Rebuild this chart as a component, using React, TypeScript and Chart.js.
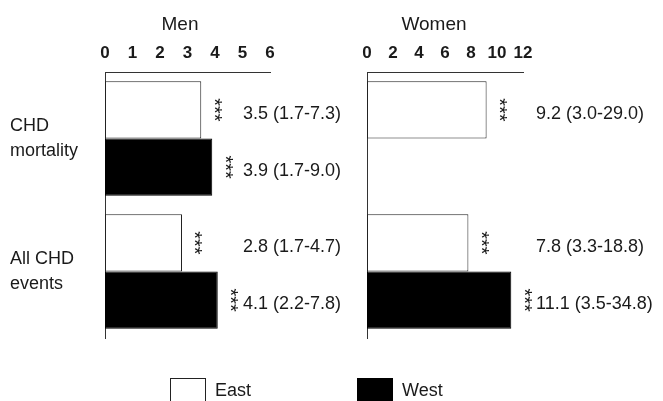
import React, { useEffect, useRef } from "react";
import { Chart, registerables } from "chart.js";
Chart.register(...registerables);

const categories = [["CHD", "mortality"], ["All CHD", "events"]];
const seriesNames = ["East", "West"];
const panelTitles = ["Men", "Women"];
const menEast = [3.5, 2.8];
const menWest = [3.9, 4.1];
const womenEast = [9.2, 7.8];
const womenWest: (number | null)[] = [null, 11.1];
const menEastLabels = ["3.5 (1.7-7.3)", "2.8 (1.7-4.7)"];
const menWestLabels = ["3.9 (1.7-9.0)", "4.1 (2.2-7.8)"];
const womenEastLabels = ["9.2 (3.0-29.0)", "7.8 (3.3-18.8)"];
const womenWestLabels = ["", "11.1 (3.5-34.8)"];
const menAxisMax = 6;
const menAxisStep = 1;
const womenAxisMax = 12;
const womenAxisStep = 2;
const significance = "***";

const FONT = '"Liberation Sans", Arial, Helvetica, sans-serif';
const INK = "#1a1a1a";

function annotatePlugin(labels: string[][], column: number, title: string, titleX: number, legend: boolean) {
  return {
    id: "annot",
    afterDatasetsDraw(chart: any) {
      const ctx = chart.ctx;
      ctx.save();
      ctx.fillStyle = INK;
      ctx.font = `19px ${FONT}`;
      ctx.textAlign = "center";
      ctx.textBaseline = "middle";
      ctx.fillText(title, titleX, 25);
      chart.data.datasets.forEach((ds: any, di: number) => {
        const meta = chart.getDatasetMeta(di);
        meta.data.forEach((bar: any, i: number) => {
          const v = ds.data[i];
          if (v == null) return;
          const { x, y } = bar.getProps(["x", "y"], true);
          const sx = x + 14;
          ctx.save();
          ctx.translate(sx, y);
          ctx.rotate(Math.PI / 2);
          ctx.font = `20px ${FONT}`;
          ctx.textAlign = "center";
          ctx.textBaseline = "middle";
          ctx.fillText(significance, 0, 2);
          ctx.restore();
          const text = labels[di][i];
          if (!text) return;
          ctx.font = `18px ${FONT}`;
          ctx.textAlign = "left";
          ctx.textBaseline = "middle";
          ctx.fillText(text, Math.max(column, sx + 6), y + 4);
        });
      });
      if (legend) {
        const pos = [170, 357];
        chart.data.datasets.forEach((ds: any, di: number) => {
          const bx = pos[di];
          ctx.fillStyle = ds.backgroundColor;
          ctx.fillRect(bx, 378, 36, 26);
          ctx.strokeStyle = ds.borderColor;
          ctx.lineWidth = 1;
          ctx.strokeRect(bx + 0.5, 378.5, 35, 26);
          ctx.fillStyle = INK;
          ctx.font = `18px ${FONT}`;
          ctx.textAlign = "left";
          ctx.textBaseline = "middle";
          ctx.fillText(ds.label, bx + 45, 391);
        });
      }
      ctx.restore();
    },
  };
}

function makeConfig(east: (number | null)[], west: (number | null)[], max: number, step: number, showY: boolean, padding: any, yWidth: number, plugin: any) {
  return {
    type: "bar" as const,
    data: {
      labels: categories,
      datasets: [
        { label: seriesNames[0], data: east, backgroundColor: "#ffffff", borderColor: "#222222", borderWidth: 1, borderSkipped: false },
        { label: seriesNames[1], data: west, backgroundColor: "#000000", borderColor: "#000000", borderWidth: 1, borderSkipped: false },
      ],
    },
    options: {
      indexAxis: "y" as const,
      responsive: false,
      animation: false as const,
      devicePixelRatio: 1,
      layout: { padding },
      categoryPercentage: 0.86,
      barPercentage: 1,
      plugins: { legend: { display: false }, tooltip: { enabled: false }, title: { display: false } },
      scales: {
        x: {
          position: "top" as const,
          min: 0,
          max,
          grid: { display: false, drawTicks: false },
          border: { display: true, color: "#333", width: 1 },
          ticks: { stepSize: step, color: INK, padding: 8, font: { family: FONT, size: 17, weight: "bold" as const } },
          afterFit: (s: any) => { s.height = 72; },
        },
        y: {
          offset: true,
          grid: { display: false, drawTicks: false },
          border: { display: true, color: "#333", width: 1 },
          ticks: { display: showY, crossAlign: "far" as const, color: INK, padding: 0, font: { family: FONT, size: 18, lineHeight: 1.4 } },
          afterFit: (s: any) => { s.width = yWidth; },
        },
      },
    },
    plugins: [plugin],
  };
}

export default function App() {
  const menRef = useRef<HTMLCanvasElement>(null);
  const womenRef = useRef<HTMLCanvasElement>(null);
  useEffect(() => {
    const men = new Chart(menRef.current!, makeConfig(menEast, menWest, menAxisMax, menAxisStep, true,
      { left: 10, right: 393, top: 0, bottom: 63 }, 95,
      annotatePlugin([menEastLabels, menWestLabels], 243, panelTitles[0], 180, true)) as any);
    const women = new Chart(womenRef.current!, makeConfig(womenEast, womenWest, womenAxisMax, womenAxisStep, false,
      { left: 67, right: 140, top: 0, bottom: 7 }, 0,
      annotatePlugin([womenEastLabels, womenWestLabels], 236, panelTitles[1], 134, false)) as any);
    return () => { men.destroy(); women.destroy(); };
  }, []);
  return (
    <div style={{ position: "absolute", left: 0, top: 0, width: 663, height: 401, background: "#fff", overflow: "hidden" }}>
      <canvas ref={menRef} width={663} height={401} style={{ position: "absolute", left: 0, top: 0, width: 663, height: 401 }} />
      <canvas ref={womenRef} width={363} height={345} style={{ position: "absolute", left: 300, top: 0, width: 363, height: 345 }} />
    </div>
  );
}
